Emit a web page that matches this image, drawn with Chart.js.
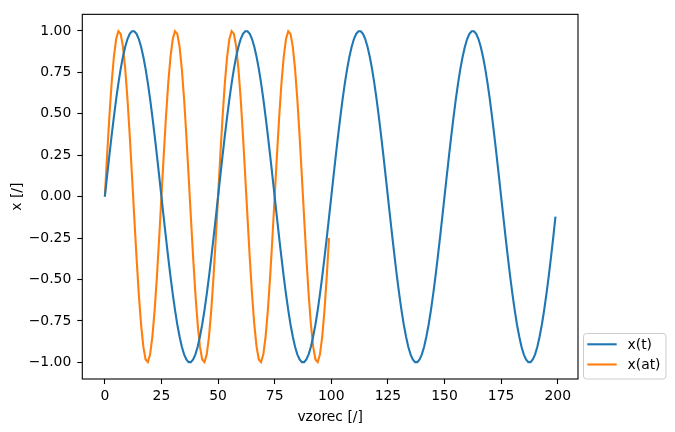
<!DOCTYPE html>
<html>
<head>
<meta charset="utf-8">
<script src="https://cdn.jsdelivr.net/npm/chart.js@4"></script>
<style>
html,body{margin:0;padding:0;background:#fff;}
#wrap{width:675px;height:432px;}
</style>
</head>
<body>
<div id="wrap"><canvas id="c" width="675" height="432"></canvas></div>
<script>
const seriesNames = ['x(t)', 'x(at)'];
const xTickValues = [0, 25, 50, 75, 100, 125, 150, 175, 200];
const yTickValues = [-1, -0.75, -0.5, -0.25, 0, 0.25, 0.5, 0.75, 1];
const xTitle = 'vzorec [/]';
const yTitle = 'x [/]';

// x(t): samples 0..199
const xT = [
 0.000, 0.125, 0.249, 0.368, 0.482, 0.588, 0.685, 0.771, 0.844, 0.905,
 0.951, 0.982, 0.998, 0.998, 0.982, 0.951, 0.905, 0.844, 0.771, 0.685,
 0.588, 0.482, 0.368, 0.249, 0.125, 0.000, -0.125, -0.249, -0.368, -0.482,
 -0.588, -0.685, -0.771, -0.844, -0.905, -0.951, -0.982, -0.998, -0.998, -0.982,
 -0.951, -0.905, -0.844, -0.771, -0.685, -0.588, -0.482, -0.368, -0.249, -0.125,
 0.000, 0.125, 0.249, 0.368, 0.482, 0.588, 0.685, 0.771, 0.844, 0.905,
 0.951, 0.982, 0.998, 0.998, 0.982, 0.951, 0.905, 0.844, 0.771, 0.685,
 0.588, 0.482, 0.368, 0.249, 0.125, 0.000, -0.125, -0.249, -0.368, -0.482,
 -0.588, -0.685, -0.771, -0.844, -0.905, -0.951, -0.982, -0.998, -0.998, -0.982,
 -0.951, -0.905, -0.844, -0.771, -0.685, -0.588, -0.482, -0.368, -0.249, -0.125,
 0.000, 0.125, 0.249, 0.368, 0.482, 0.588, 0.685, 0.771, 0.844, 0.905,
 0.951, 0.982, 0.998, 0.998, 0.982, 0.951, 0.905, 0.844, 0.771, 0.685,
 0.588, 0.482, 0.368, 0.249, 0.125, 0.000, -0.125, -0.249, -0.368, -0.482,
 -0.588, -0.685, -0.771, -0.844, -0.905, -0.951, -0.982, -0.998, -0.998, -0.982,
 -0.951, -0.905, -0.844, -0.771, -0.685, -0.588, -0.482, -0.368, -0.249, -0.125,
 0.000, 0.125, 0.249, 0.368, 0.482, 0.588, 0.685, 0.771, 0.844, 0.905,
 0.951, 0.982, 0.998, 0.998, 0.982, 0.951, 0.905, 0.844, 0.771, 0.685,
 0.588, 0.482, 0.368, 0.249, 0.125, 0.000, -0.125, -0.249, -0.368, -0.482,
 -0.588, -0.685, -0.771, -0.844, -0.905, -0.951, -0.982, -0.998, -0.998, -0.982,
 -0.951, -0.905, -0.844, -0.771, -0.685, -0.588, -0.482, -0.368, -0.249, -0.120
];

// x(at): samples 0..99
const xAT = [
 0.000, 0.249, 0.482, 0.685, 0.844, 0.951, 0.998, 0.982, 0.905, 0.771,
 0.588, 0.368, 0.125, -0.125, -0.368, -0.588, -0.771, -0.905, -0.982, -0.998,
 -0.951, -0.844, -0.685, -0.482, -0.249,
 0.000, 0.249, 0.482, 0.685, 0.844, 0.951, 0.998, 0.982, 0.905, 0.771,
 0.588, 0.368, 0.125, -0.125, -0.368, -0.588, -0.771, -0.905, -0.982, -0.998,
 -0.951, -0.844, -0.685, -0.482, -0.249,
 0.000, 0.249, 0.482, 0.685, 0.844, 0.951, 0.998, 0.982, 0.905, 0.771,
 0.588, 0.368, 0.125, -0.125, -0.368, -0.588, -0.771, -0.905, -0.982, -0.998,
 -0.951, -0.844, -0.685, -0.482, -0.249,
 0.000, 0.249, 0.482, 0.685, 0.844, 0.951, 0.998, 0.982, 0.905, 0.771,
 0.588, 0.368, 0.125, -0.125, -0.368, -0.588, -0.771, -0.905, -0.982, -0.998,
 -0.951, -0.844, -0.685, -0.482, -0.249
];

const colors = ['#1f77b4', '#ff7f0e'];
const FONT = {family: '"DejaVu Sans", sans-serif', size: 13.9, lineHeight: 1.2};

const toPts = arr => arr.map((y, i) => ({x: i, y: y}));

const framePlugin = {
  id: 'frame',
  afterDatasetsDraw(chart) {
    const {ctx, chartArea: a} = chart;
    ctx.save();
    ctx.strokeStyle = '#000';
    ctx.lineWidth = 1.1;
    ctx.strokeRect(a.left, a.top, a.right - a.left, a.bottom - a.top);
    ctx.restore();
  },
  afterDraw(chart) {
    const ctx = chart.ctx;
    const bx = 583.5, by = 333.5, bw = 82.5, bh = 45.5, r = 3;
    ctx.save();
    ctx.beginPath();
    ctx.moveTo(bx + r, by);
    ctx.lineTo(bx + bw - r, by);
    ctx.arcTo(bx + bw, by, bx + bw, by + r, r);
    ctx.lineTo(bx + bw, by + bh - r);
    ctx.arcTo(bx + bw, by + bh, bx + bw - r, by + bh, r);
    ctx.lineTo(bx + r, by + bh);
    ctx.arcTo(bx, by + bh, bx, by + bh - r, r);
    ctx.lineTo(bx, by + r);
    ctx.arcTo(bx, by, bx + r, by, r);
    ctx.closePath();
    ctx.fillStyle = 'rgba(255,255,255,0.8)';
    ctx.fill();
    ctx.strokeStyle = '#cccccc';
    ctx.lineWidth = 1;
    ctx.stroke();
    chart.data.datasets.forEach((ds, i) => {
      const y = 344.3 + i * 20.2;
      ctx.beginPath();
      ctx.moveTo(587.3, y);
      ctx.lineTo(616.7, y);
      ctx.strokeStyle = ds.borderColor;
      ctx.lineWidth = 2.1;
      ctx.stroke();
      ctx.fillStyle = '#000';
      ctx.font = '13.9px "DejaVu Sans", sans-serif';
      ctx.textBaseline = 'middle';
      ctx.textAlign = 'left';
      ctx.fillText(ds.label, 627.5, y + 1);
    });
    ctx.restore();
  }
};

const fmtY = v => (v < 0 ? '\u2212' : '') + Math.abs(v).toFixed(2);

new Chart(document.getElementById('c'), {
  type: 'line',
  data: {
    datasets: [
      {label: seriesNames[0], data: toPts(xT), borderColor: colors[0], backgroundColor: colors[0], borderWidth: 2.1, pointRadius: 0, tension: 0, fill: false},
      {label: seriesNames[1], data: toPts(xAT), borderColor: colors[1], backgroundColor: colors[1], borderWidth: 2.1, pointRadius: 0, tension: 0, fill: false}
    ]
  },
  options: {
    responsive: false,
    animation: false,
    devicePixelRatio: 1,
    layout: {padding: {left: 0, right: 97, top: 9.5, bottom: 0}},
    plugins: {legend: {display: false}, tooltip: {enabled: false}},
    scales: {
      x: {
        type: 'linear', min: -9.95, max: 208.95,
        afterBuildTicks: s => { s.ticks = xTickValues.map(v => ({value: v})); },
        afterFit: s => { s.height = 53; },
        ticks: {font: FONT, color: '#000', padding: 4.5, maxRotation: 0, autoSkip: false, callback: v => String(v)},
        grid: {display: true, drawOnChartArea: false, drawTicks: true, tickLength: 5, tickColor: '#000', tickWidth: 1.1},
        border: {display: false},
        title: {display: true, text: xTitle, font: FONT, color: '#000', padding: {top: 0, bottom: 6.5}}
      },
      y: {
        type: 'linear', min: -1.1, max: 1.1,
        afterBuildTicks: s => { s.ticks = yTickValues.map(v => ({value: v})); },
        afterFit: s => { s.width = 82.3; },
        ticks: {font: FONT, color: '#000', padding: 6, autoSkip: false, callback: v => fmtY(v)},
        grid: {display: true, drawOnChartArea: false, drawTicks: true, tickLength: 5, tickColor: '#000', tickWidth: 1.1},
        border: {display: false},
        title: {display: true, text: yTitle, font: FONT, color: '#000', padding: {top: 9, bottom: 0}}
      }
    }
  },
  plugins: [framePlugin]
});
</script>
</body>
</html>
